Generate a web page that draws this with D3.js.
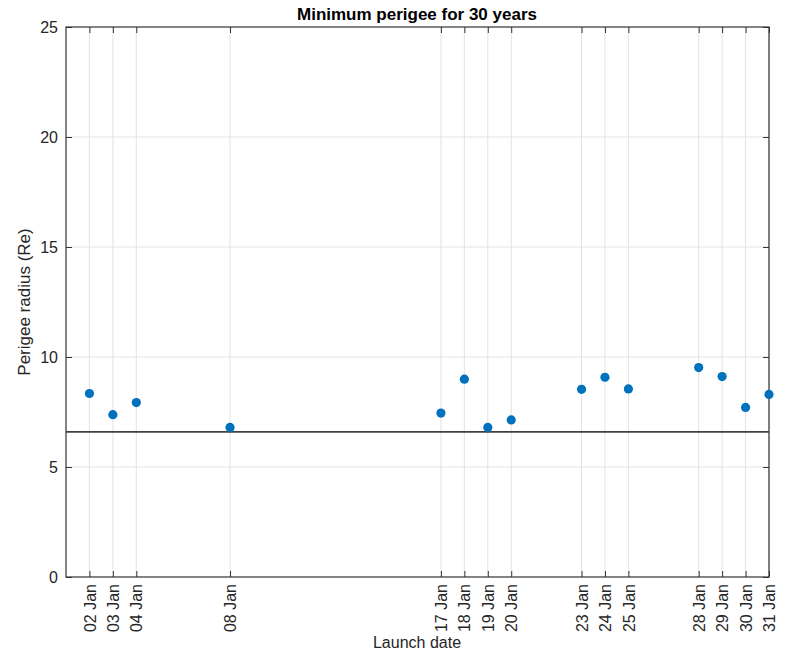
<!DOCTYPE html>
<html>
<head>
<meta charset="utf-8">
<script src="https://cdn.jsdelivr.net/npm/d3@7/dist/d3.min.js"></script>
<style>
  html, body { margin: 0; padding: 0; background: #fff; }
  text { font-family: "Liberation Sans", Arial, sans-serif; fill: #262626; }
</style>
</head>
<body>
<svg id="chart" width="786" height="656"></svg>
<script>
// Launch days (January) and the minimum perigee radius found for each
const launchDays = [2, 3, 4, 8, 17, 18, 19, 20, 23, 24, 25, 28, 29, 30, 31];
const perigeeRe = [8.34, 7.38, 7.93, 6.80, 7.45, 8.99, 6.80, 7.14, 8.53, 9.08, 8.55, 9.52, 9.11, 7.71, 8.30];
const yTicks = [0, 5, 10, 15, 20, 25];
const thresholdRe = 6.6;
const titleText = "Minimum perigee for 30 years";
const xLabelText = "Launch date";
const yLabelText = "Perigee radius (Re)";

const svg = d3.select("#chart");
const m = { left: 66, right: 769, top: 27, bottom: 577 };

const dates = launchDays.map(d => new Date(2000, 0, d));
const x = d3.scaleTime()
  .domain([new Date(2000, 0, 1), new Date(2000, 0, 31)])
  .range([m.left, m.right]);
const y = d3.scaleLinear().domain([0, 25]).range([m.bottom, m.top]);
const fmt = d3.timeFormat("%d %b");

// grid
const grid = svg.append("g").attr("stroke", "#e3e3e3").attr("stroke-width", 1);
grid.selectAll("line.v").data(dates).join("line")
  .attr("x1", d => x(d)).attr("x2", d => x(d))
  .attr("y1", m.top).attr("y2", m.bottom);
grid.selectAll("line.h").data(yTicks.slice(1, -1)).join("line")
  .attr("x1", m.left).attr("x2", m.right)
  .attr("y1", d => y(d)).attr("y2", d => y(d));

// axes with inward ticks
const axisColor = "#333333";
const styleAxis = g => {
  g.select(".domain").remove();
  g.selectAll(".tick line").attr("stroke", axisColor);
  g.selectAll("text").attr("fill", "#262626").style("font-size", "16px")
    .style("font-family", "'Liberation Sans', Arial, sans-serif");
};

svg.append("g").attr("transform", `translate(0,${m.bottom})`)
  .call(d3.axisBottom(x).tickValues(dates).tickFormat(fmt).tickSizeInner(-6).tickSizeOuter(0))
  .call(styleAxis)
  .call(g => g.selectAll("text")
    .attr("transform", "rotate(-90)")
    .attr("text-anchor", "end")
    .attr("x", -7).attr("y", 0).attr("dy", "0.35em"));

svg.append("g").attr("transform", `translate(0,${m.top})`)
  .call(d3.axisTop(x).tickValues(dates).tickFormat("").tickSizeInner(-6).tickSizeOuter(0))
  .call(styleAxis);

svg.append("g").attr("transform", `translate(${m.left},0)`)
  .call(d3.axisLeft(y).tickValues(yTicks).tickSizeInner(-6).tickSizeOuter(0).tickPadding(8))
  .call(styleAxis);

svg.append("g").attr("transform", `translate(${m.right},0)`)
  .call(d3.axisRight(y).tickValues(yTicks).tickFormat("").tickSizeInner(-6).tickSizeOuter(0))
  .call(styleAxis);

// box
svg.append("rect")
  .attr("x", m.left).attr("y", m.top)
  .attr("width", m.right - m.left).attr("height", m.bottom - m.top)
  .attr("fill", "none").attr("stroke", axisColor).attr("stroke-width", 1.2);

// threshold line
svg.append("line")
  .attr("x1", m.left).attr("x2", m.right)
  .attr("y1", y(thresholdRe)).attr("y2", y(thresholdRe))
  .attr("stroke", "#404040").attr("stroke-width", 1.8);

// points
svg.append("g").selectAll("circle").data(launchDays).join("circle")
  .attr("cx", (d, i) => x(dates[i]))
  .attr("cy", (d, i) => y(perigeeRe[i]))
  .attr("r", 4.6)
  .attr("fill", "#0072BD");

// labels
svg.append("text").attr("x", 417).attr("y", 20)
  .attr("text-anchor", "middle").style("font-size", "17px").style("font-weight", "bold")
  .attr("fill", "#000").style("fill", "#000").text(titleText);

svg.append("text").attr("x", 417).attr("y", 648)
  .attr("text-anchor", "middle").style("font-size", "16px").text(xLabelText);

svg.append("text")
  .attr("transform", `translate(30,${(m.top + m.bottom) / 2}) rotate(-90)`)
  .attr("text-anchor", "middle").style("font-size", "17px").text(yLabelText);
</script>
</body>
</html>
